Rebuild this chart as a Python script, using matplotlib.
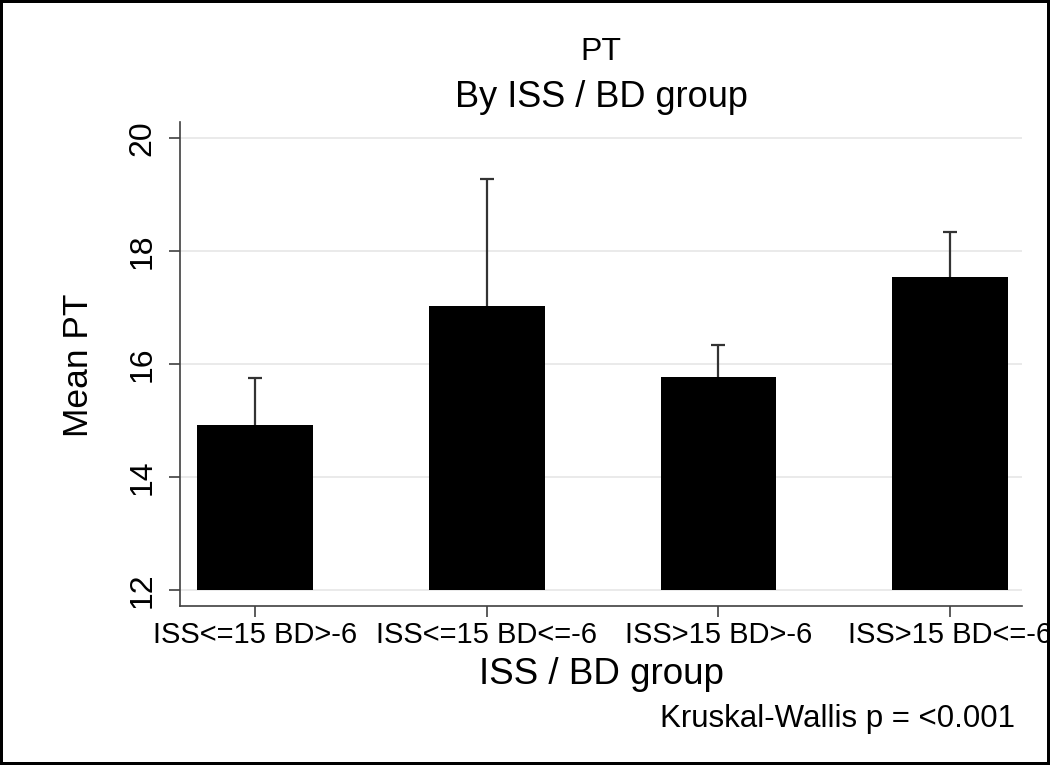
import matplotlib.pyplot as plt

# mean PT by ISS / BD group
groups = ["ISS<=15 BD>-6", "ISS<=15 BD<=-6", "ISS>15 BD>-6", "ISS>15 BD<=-6"]
mean_pt = [14.93, 17.03, 15.77, 17.54]
err_pt = [0.82, 2.24, 0.57, 0.80]
y_ticks = [12, 14, 16, 18, 20]

plt.rcParams['font.family'] = ['Liberation Sans', 'DejaVu Sans']

fig = plt.figure(figsize=(10.5, 7.65), dpi=100, linewidth=4, edgecolor='black')
ax = fig.add_axes([0.1714, 0.2078, 0.9733 - 0.1714, 0.8405 - 0.2078])

x = list(range(len(groups)))
base = 12
heights = [m - base for m in mean_pt]
ax.bar(x, heights, bottom=base, width=0.5, color='black', zorder=2)
eb = ax.errorbar(x, mean_pt, yerr=[[0] * len(err_pt), err_pt], fmt='none',
                 ecolor='#333333', elinewidth=1.6, capsize=4.7, capthick=1.6, zorder=3)
# only the upper cap is drawn in the original
eb[1][0].set_visible(False)

ax.set_xlim(-0.324, 3.31)
ax.set_ylim(11.72, 20.28)
ax.set_yticks(y_ticks)
ax.set_xticks(x)
ax.set_xticklabels(groups, fontsize=21)
ax.set_yticklabels([str(t) for t in y_ticks], fontsize=23, rotation=90, va='center')

ax.grid(axis='y', color='#e8e8e8', linewidth=1.3)
ax.set_axisbelow(True)
for s in ['top', 'right']:
    ax.spines[s].set_visible(False)
for s in ['left', 'bottom']:
    ax.spines[s].set_color('#404040')
    ax.spines[s].set_linewidth(1.2)
ax.tick_params(axis='both', colors='#404040', labelcolor='black', length=8, width=1.2)
ax.tick_params(axis='x', pad=3)
ax.tick_params(axis='y', pad=8)

# titles and axis labels
fig.text(0.5724, 1 - 60 / 765, "PT", fontsize=23, ha='center', va='baseline')
fig.text(0.5724, 1 - 107 / 765, "By ISS / BD group", fontsize=26, ha='center', va='baseline')
fig.text(0.5724, 1 - 684 / 765, "ISS / BD group", fontsize=26.5, ha='center', va='baseline')
fig.text(78 / 1050, 1 - 365 / 765, "Mean PT", fontsize=25.5, rotation=90, ha='center', va='center')
fig.text(1015 / 1050, 1 - 727 / 765, "Kruskal-Wallis p = <0.001", fontsize=22.5, ha='right', va='baseline')

fig.savefig("out.png", dpi=100)
